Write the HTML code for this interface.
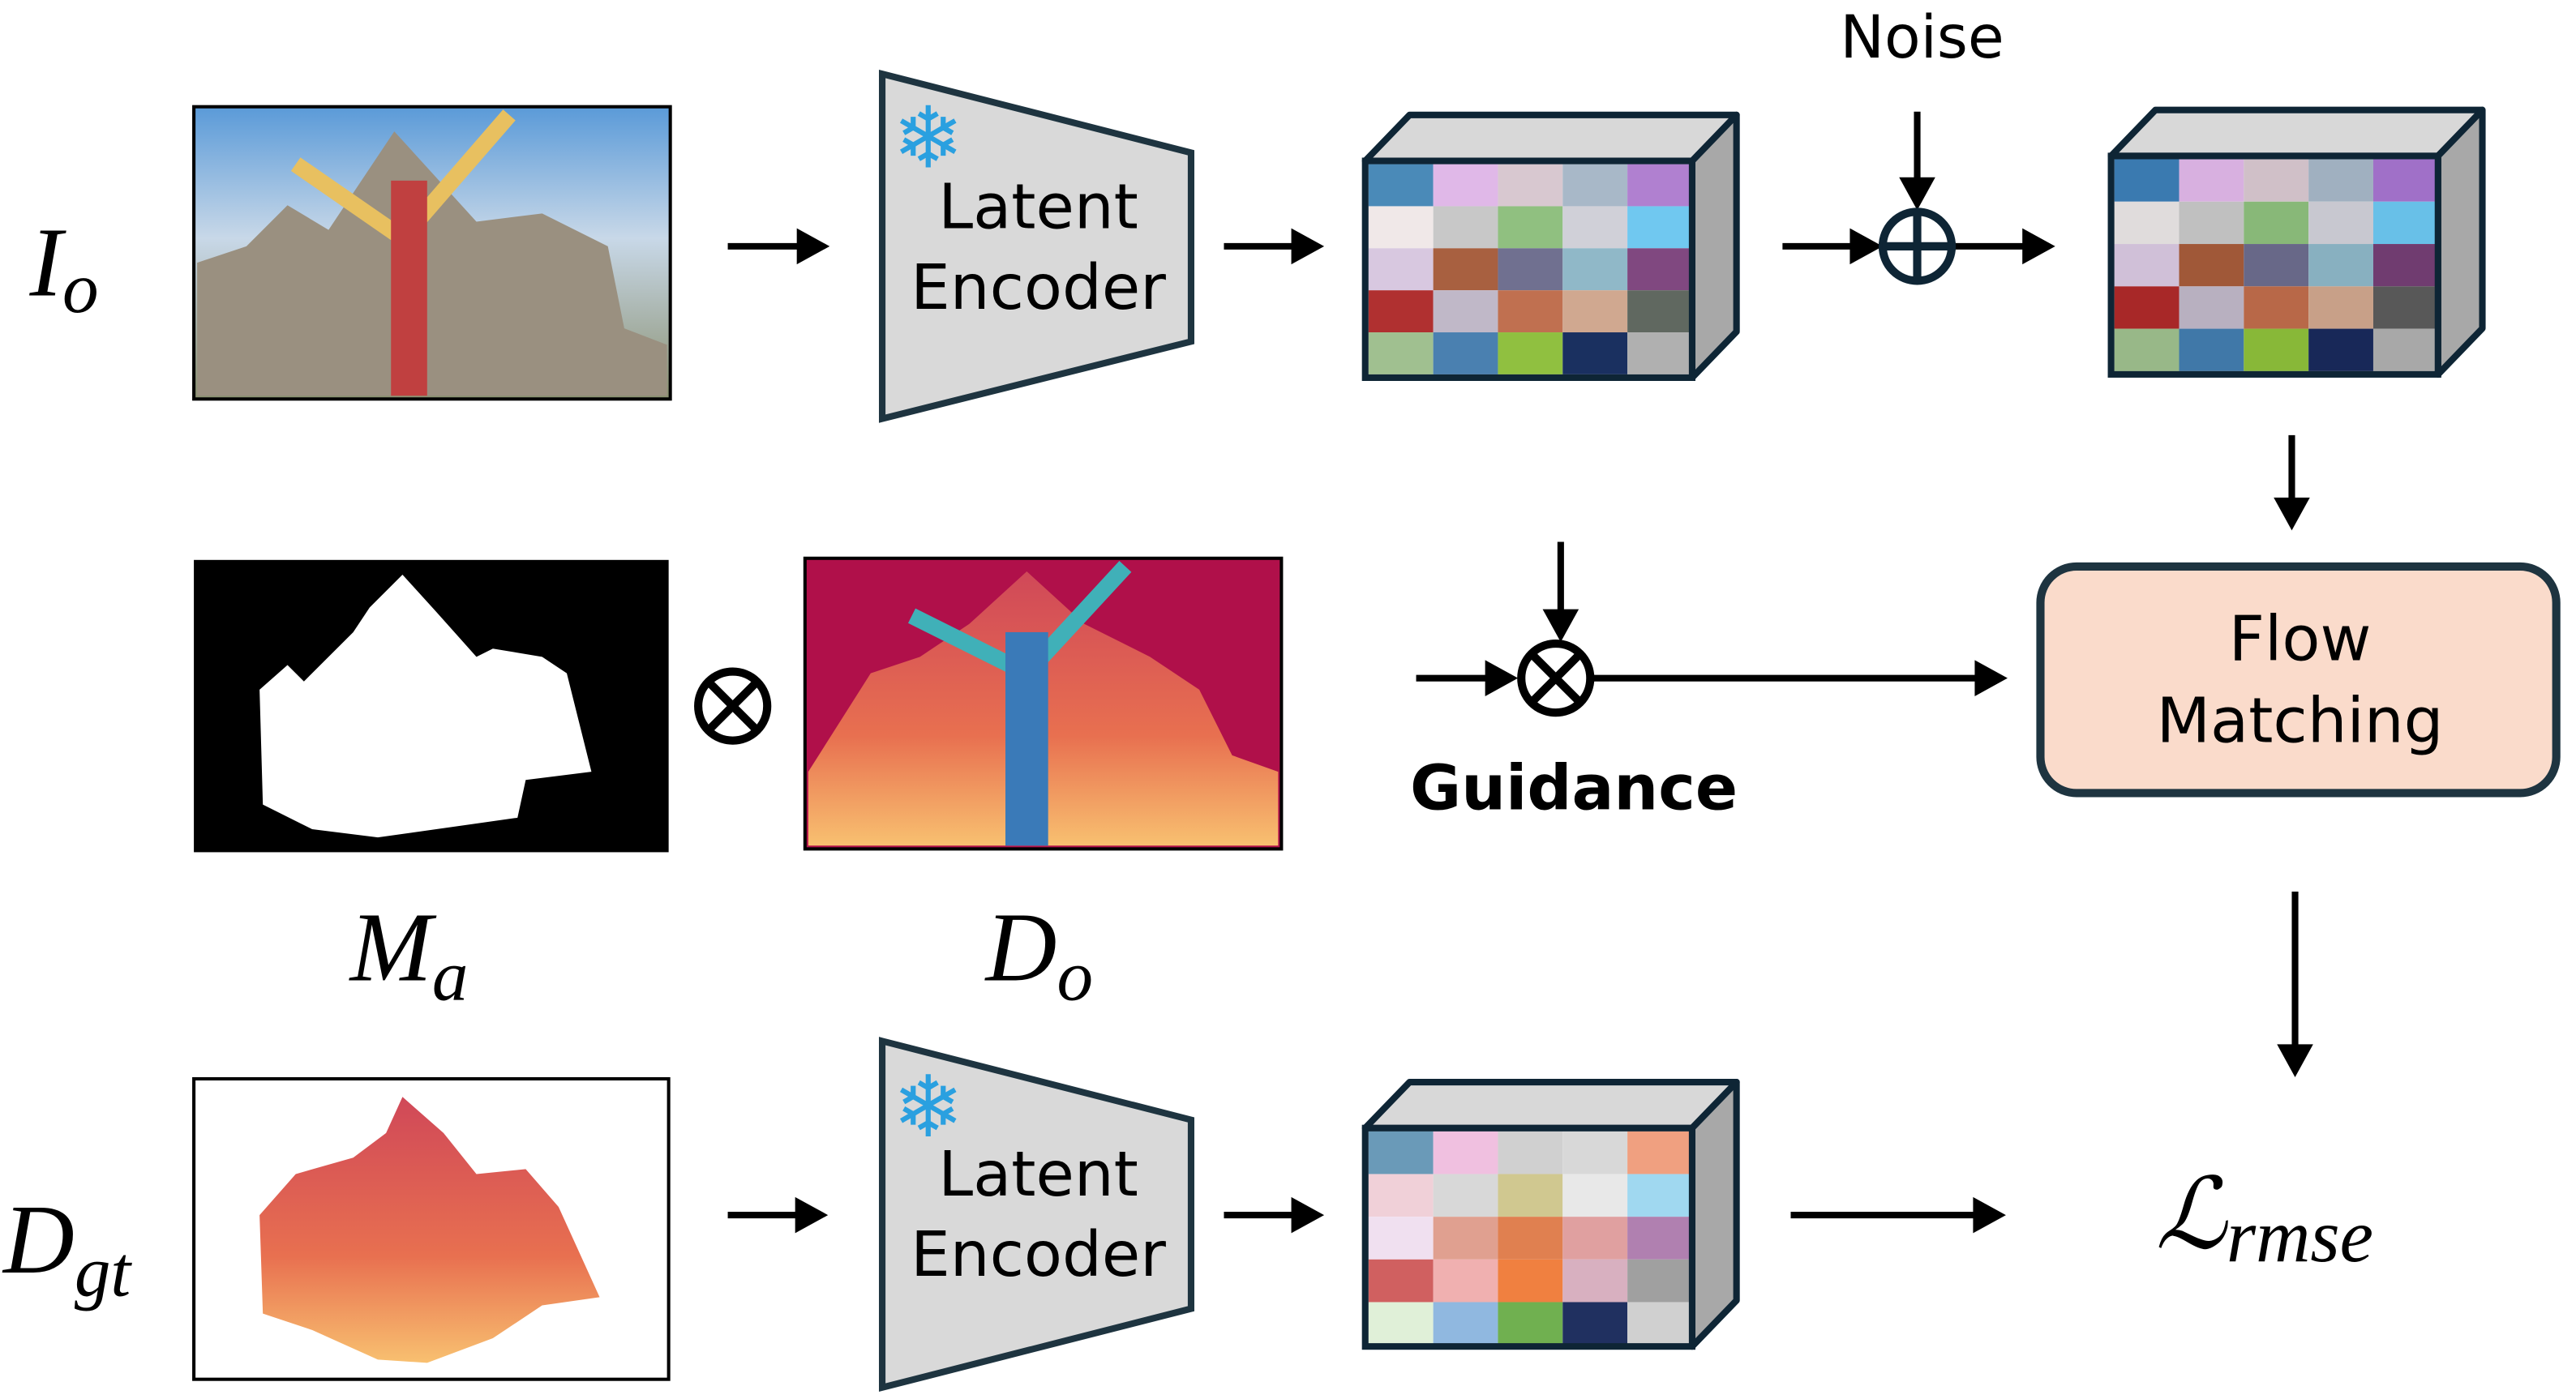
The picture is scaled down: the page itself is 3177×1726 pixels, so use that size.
<!DOCTYPE html>
<html><head><meta charset="utf-8"><style>
html,body{margin:0;padding:0;background:#fff;}
svg{display:block;}
text{font-family:"DejaVu Sans","Liberation Sans",sans-serif;}
.m{font-family:"Liberation Serif","DejaVu Serif",serif;font-style:italic;}
</style></head><body>
<svg width="3177" height="1726" viewBox="0 0 1568 852" preserveAspectRatio="none" xmlns="http://www.w3.org/2000/svg">
<defs>
<linearGradient id="sky" x1="0" y1="0" x2="0" y2="1"><stop offset="0" stop-color="#5a9ad8"/><stop offset="0.45" stop-color="#c8d8e8"/><stop offset="1" stop-color="#8a9070"/></linearGradient>
<linearGradient id="dep" x1="0" y1="0" x2="0" y2="1"><stop offset="0" stop-color="#d04858"/><stop offset="0.6" stop-color="#e87050"/><stop offset="1" stop-color="#f8c070"/></linearGradient>
</defs>
<g stroke="#000" stroke-width="4" fill="none">
<line x1="443" y1="150" x2="490" y2="150"/>
<line x1="745" y1="150" x2="790" y2="150"/>
<line x1="1085" y1="150" x2="1130" y2="150"/>
<line x1="1190" y1="150" x2="1235" y2="150"/>
<line x1="1167" y1="68" x2="1167" y2="112"/>
<line x1="1395" y1="265" x2="1395" y2="307"/>
<line x1="862" y1="413" x2="908" y2="413"/>
<line x1="950" y1="330" x2="950" y2="375"/>
<line x1="970" y1="413" x2="1206" y2="413"/>
<line x1="1397" y1="543" x2="1397" y2="640"/>
<line x1="443" y1="740" x2="488" y2="740"/>
<line x1="745" y1="740" x2="790" y2="740"/>
<line x1="1090" y1="740" x2="1205" y2="740"/>
</g>
<g fill="#000">
<polygon points="505,150 485,139 485,161"/>
<polygon points="806,150 786,139 786,161"/>
<polygon points="1146,150 1126,139 1126,161"/>
<polygon points="1251,150 1231,139 1231,161"/>
<polygon points="1167,128 1156,108 1178,108"/>
<polygon points="1395,323 1384,303 1406,303"/>
<polygon points="924,413 904,402 904,424"/>
<polygon points="950,391 939,371 961,371"/>
<polygon points="1222,413 1202,402 1202,424"/>
<polygon points="1397,656 1386,636 1408,636"/>
<polygon points="504,740 484,729 484,751"/>
<polygon points="806,740 786,729 786,751"/>
<polygon points="1221,740 1201,729 1201,751"/>
</g>
<!-- labels -->
<text x="18" y="180" class="m" font-size="60">I<tspan font-size="44" dy="10">o</tspan></text>
<text x="213" y="597" class="m" font-size="60">M<tspan font-size="44" dy="12">a</tspan></text>
<text x="600" y="597" class="m" font-size="60">D<tspan font-size="44" dy="12">o</tspan></text>
<text x="2" y="775" class="m" font-size="60">D<tspan font-size="44" dy="14">gt</tspan></text>
<text x="1312" y="760" class="m" font-size="60">ℒ<tspan font-size="46" dy="8">rmse</tspan></text>
<text x="1170" y="35" font-size="36" text-anchor="middle">Noise</text>
<text x="958" y="493" font-size="38" font-weight="bold" text-anchor="middle">Guidance</text>
<!-- photo -->
<rect x="118" y="65" width="290" height="178" fill="url(#sky)" stroke="#000" stroke-width="2"/>
<path d="M120,241 L120,160 L150,150 L175,125 L200,140 L240,80 L290,135 L330,130 L370,150 L380,200 L406,210 L406,241z" fill="#9a9080"/>
<path d="M180,100 L245,145 L310,70" stroke="#e8c060" stroke-width="10" fill="none"/>
<rect x="238" y="110" width="22" height="131" fill="#c04040"/>
<!-- encoders -->
<g stroke="#1e3440" stroke-width="4" fill="#d9d9d9">
<polygon points="537,45 725,93 725,208 537,255"/>
<polygon points="537,634 725,682 725,797 537,845"/>
</g>
<g font-size="38" text-anchor="middle" fill="#000">
<text x="632" y="139">Latent</text><text x="632" y="188">Encoder</text>
<text x="632" y="728">Latent</text><text x="632" y="777">Encoder</text>
</g>
<g fill="#2aa0e0" font-size="52" text-anchor="middle"><text x="565" y="102">❄</text><text x="565" y="692">❄</text></g>
<!-- cube 1 -->
<g stroke="#0e2535" stroke-width="4" stroke-linejoin="round">
<polygon points="831,98 858,70 1057,70 1030,98" fill="#d8d8d8"/>
<polygon points="1030,98 1057,70 1057,202 1030,230" fill="#a8a8a8"/>
</g>
<g transform="translate(833,100) scale(39.4,25.6)">
<rect x="0" y="0" width="1" height="1" fill="#4a8ab8"/><rect x="1" y="0" width="1" height="1" fill="#e0b8e8"/><rect x="2" y="0" width="1" height="1" fill="#d8c8d0"/><rect x="3" y="0" width="1" height="1" fill="#a8b8c8"/><rect x="4" y="0" width="1" height="1" fill="#b080d0"/>
<rect x="0" y="1" width="1" height="1" fill="#f0e8e8"/><rect x="1" y="1" width="1" height="1" fill="#c8c8c8"/><rect x="2" y="1" width="1" height="1" fill="#90c080"/><rect x="3" y="1" width="1" height="1" fill="#d0d0d8"/><rect x="4" y="1" width="1" height="1" fill="#70c8f0"/>
<rect x="0" y="2" width="1" height="1" fill="#d8c8e0"/><rect x="1" y="2" width="1" height="1" fill="#a86040"/><rect x="2" y="2" width="1" height="1" fill="#707090"/><rect x="3" y="2" width="1" height="1" fill="#90b8c8"/><rect x="4" y="2" width="1" height="1" fill="#804880"/>
<rect x="0" y="3" width="1" height="1" fill="#b03030"/><rect x="1" y="3" width="1" height="1" fill="#c0b8c8"/><rect x="2" y="3" width="1" height="1" fill="#c07050"/><rect x="3" y="3" width="1" height="1" fill="#d0a890"/><rect x="4" y="3" width="1" height="1" fill="#606860"/>
<rect x="0" y="4" width="1" height="1" fill="#a0c090"/><rect x="1" y="4" width="1" height="1" fill="#4a80b0"/><rect x="2" y="4" width="1" height="1" fill="#90c040"/><rect x="3" y="4" width="1" height="1" fill="#1a3060"/><rect x="4" y="4" width="1" height="1" fill="#b0b0b0"/>
</g>
<rect x="831" y="98" width="199" height="132" fill="none" stroke="#0e2535" stroke-width="4"/>
<!-- cube 2 -->
<g stroke="#0e2535" stroke-width="4" stroke-linejoin="round">
<polygon points="1285,95 1312,67 1511,67 1484,95" fill="#d8d8d8"/>
<polygon points="1484,95 1511,67 1511,200 1484,228" fill="#a8a8a8"/>
</g>
<g transform="translate(1287,97) scale(39.4,25.8)">
<rect x="0" y="0" width="1" height="1" fill="#3a7ab0"/><rect x="1" y="0" width="1" height="1" fill="#d8b0e0"/><rect x="2" y="0" width="1" height="1" fill="#d0c0c8"/><rect x="3" y="0" width="1" height="1" fill="#a0b0c0"/><rect x="4" y="0" width="1" height="1" fill="#a070c8"/>
<rect x="0" y="1" width="1" height="1" fill="#e0dcdc"/><rect x="1" y="1" width="1" height="1" fill="#c0c0c0"/><rect x="2" y="1" width="1" height="1" fill="#88b878"/><rect x="3" y="1" width="1" height="1" fill="#c8c8d0"/><rect x="4" y="1" width="1" height="1" fill="#68c0e8"/>
<rect x="0" y="2" width="1" height="1" fill="#d0c0d8"/><rect x="1" y="2" width="1" height="1" fill="#a05838"/><rect x="2" y="2" width="1" height="1" fill="#686888"/><rect x="3" y="2" width="1" height="1" fill="#88b0c0"/><rect x="4" y="2" width="1" height="1" fill="#703c70"/>
<rect x="0" y="3" width="1" height="1" fill="#a82828"/><rect x="1" y="3" width="1" height="1" fill="#b8b0c0"/><rect x="2" y="3" width="1" height="1" fill="#b86848"/><rect x="3" y="3" width="1" height="1" fill="#c8a088"/><rect x="4" y="3" width="1" height="1" fill="#585858"/>
<rect x="0" y="4" width="1" height="1" fill="#98b888"/><rect x="1" y="4" width="1" height="1" fill="#4078a8"/><rect x="2" y="4" width="1" height="1" fill="#88b838"/><rect x="3" y="4" width="1" height="1" fill="#182858"/><rect x="4" y="4" width="1" height="1" fill="#a8a8a8"/>
</g>
<rect x="1285" y="95" width="199" height="133" fill="none" stroke="#0e2535" stroke-width="4"/>
<!-- cube 3 -->
<g stroke="#0e2535" stroke-width="4" stroke-linejoin="round">
<polygon points="831,687 858,659 1057,659 1030,687" fill="#d8d8d8"/>
<polygon points="1030,687 1057,659 1057,792 1030,820" fill="#a8a8a8"/>
</g>
<g transform="translate(833,689) scale(39.4,26)">
<rect x="0" y="0" width="1" height="1" fill="#6a9ab8"/><rect x="1" y="0" width="1" height="1" fill="#f0c0e0"/><rect x="2" y="0" width="1" height="1" fill="#d0d0d0"/><rect x="3" y="0" width="1" height="1" fill="#d8d8d8"/><rect x="4" y="0" width="1" height="1" fill="#f0a080"/>
<rect x="0" y="1" width="1" height="1" fill="#f0d0d8"/><rect x="1" y="1" width="1" height="1" fill="#d8d8d8"/><rect x="2" y="1" width="1" height="1" fill="#d0c890"/><rect x="3" y="1" width="1" height="1" fill="#e8e8e8"/><rect x="4" y="1" width="1" height="1" fill="#a0d8f0"/>
<rect x="0" y="2" width="1" height="1" fill="#f0e0f0"/><rect x="1" y="2" width="1" height="1" fill="#e0a090"/><rect x="2" y="2" width="1" height="1" fill="#e08050"/><rect x="3" y="2" width="1" height="1" fill="#e0a0a0"/><rect x="4" y="2" width="1" height="1" fill="#b080b0"/>
<rect x="0" y="3" width="1" height="1" fill="#d06060"/><rect x="1" y="3" width="1" height="1" fill="#f0b0b0"/><rect x="2" y="3" width="1" height="1" fill="#f08040"/><rect x="3" y="3" width="1" height="1" fill="#d8b0c0"/><rect x="4" y="3" width="1" height="1" fill="#a0a0a0"/>
<rect x="0" y="4" width="1" height="1" fill="#e0f0d8"/><rect x="1" y="4" width="1" height="1" fill="#90b8e0"/><rect x="2" y="4" width="1" height="1" fill="#70b050"/><rect x="3" y="4" width="1" height="1" fill="#203060"/><rect x="4" y="4" width="1" height="1" fill="#d0d0d0"/>
</g>
<rect x="831" y="687" width="199" height="133" fill="none" stroke="#0e2535" stroke-width="4"/>
<!-- operators -->
<g stroke="#0e2535" stroke-width="5" fill="none">
<circle cx="1167" cy="150" r="21"/><line x1="1146" y1="150" x2="1188" y2="150"/><line x1="1167" y1="129" x2="1167" y2="171"/>
</g>
<g stroke="#000" stroke-width="5" fill="none">
<circle cx="947" cy="413" r="21"/><line x1="932" y1="398" x2="962" y2="428"/><line x1="962" y1="398" x2="932" y2="428"/>
<circle cx="446" cy="430" r="21"/><line x1="431" y1="415" x2="461" y2="445"/><line x1="461" y1="415" x2="431" y2="445"/>
</g>
<!-- flow matching -->
<rect x="1242" y="345" width="314" height="138" rx="22" fill="#fadbcb" stroke="#1e3440" stroke-width="5"/>
<text x="1400" y="402" font-size="38" text-anchor="middle">Flow</text>
<text x="1400" y="452" font-size="38" text-anchor="middle">Matching</text>
<!-- mask -->
<rect x="118" y="341" width="289" height="178" fill="#000"/>
<path d="M158,420 L175,405 L185,415 L215,385 L225,370 L245,350 L265,372 L290,400 L300,395 L330,400 L345,410 L360,470 L320,475 L315,498 L230,510 L190,505 L160,490z" fill="#fff"/>
<!-- depth -->
<rect x="490" y="340" width="290" height="177" fill="#b0104a" stroke="#000" stroke-width="2"/>
<path d="M492,470 L530,410 L560,400 L590,380 L625,348 L660,380 L700,400 L730,420 L750,460 L778,470 L778,515 L492,515z" fill="url(#dep)"/>
<path d="M555,375 L625,410 L685,345" stroke="#40b0b8" stroke-width="10" fill="none"/>
<rect x="612" y="385" width="26" height="130" fill="#3a7ab8"/>
<!-- gt depth -->
<rect x="118" y="657" width="289" height="183" fill="#fff" stroke="#000" stroke-width="2"/>
<path d="M158,740 L180,715 L215,705 L235,690 L245,668 L270,690 L290,715 L320,712 L340,735 L365,790 L330,795 L300,815 L260,830 L230,828 L190,810 L160,800z" fill="url(#dep)"/>
</svg>
</body></html>
